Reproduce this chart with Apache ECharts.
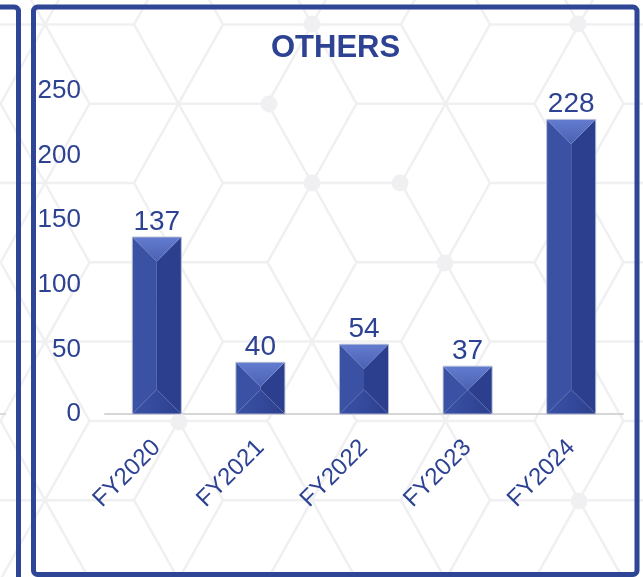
<!DOCTYPE html>
<html>
<head>
<meta charset="utf-8">
<script src="https://cdn.jsdelivr.net/npm/echarts@6/dist/echarts.min.js"></script>
<style>
  html, body { margin: 0; padding: 0; background: #ffffff; }
  #chart { width: 643px; height: 577px; }
</style>
</head>
<body>
<div id="chart"></div>
<script>
// ---- chart data ----
const categories = ['FY2020', 'FY2021', 'FY2022', 'FY2023', 'FY2024'];
const othersValues = [137, 40, 54, 37, 228];
const yTicks = [0, 50, 100, 150, 200, 250];
const chartTitle = 'OTHERS';

// ---- styling ----
const NAVY = '#2D4292';
const BORDER = '#2F4596';
const FONT = '"Liberation Sans", Arial, Helvetica, sans-serif';

// Faint tumbling-blocks (rhombille) lattice used as the panel backdrop.
function backdropElements() {
  const a = 89, h = 79.3, ox = 312, oy = 183;
  const pt = (j, k) => [ox + a * (j + k / 2), oy + h * k];
  const hub = (j, k) => ((((j - k) % 3) + 3) % 3) === 0;
  const els = [];
  for (let k = -3; k <= 6; k++) {
    for (let j = -12; j <= 12; j++) {
      const p = pt(j, k);
      if (p[0] < -120 || p[0] > 780) continue;
      [[j + 1, k], [j, k + 1], [j - 1, k + 1]].forEach(([jn, kn]) => {
        if (!hub(j, k) && !hub(jn, kn)) return;
        const q = pt(jn, kn);
        els.push({
          type: 'line', silent: true, z: 0,
          shape: { x1: p[0], y1: p[1], x2: q[0], y2: q[1] },
          style: { stroke: '#f0f0f2', lineWidth: 2.5 }
        });
      });
    }
  }
  const dots = [[269, 104], [312, 183], [400, 183], [312, 24], [578, 24],
                [579, 501], [179, 422], [445, 263]];
  dots.forEach(([x, y]) => {
    els.push({
      type: 'circle', silent: true, z: 1,
      shape: { cx: x, cy: y, r: 8.5 },
      style: { fill: '#f0f0f2' }
    });
  });
  return els;
}

// Frames: the edge of the neighbouring panel and this panel's outline.
const frameElements = [
  {
    type: 'rect', silent: true, z: 100,
    shape: { x: -100, y: 7, width: 118.5, height: 700, r: 4 },
    style: { fill: 'none', stroke: BORDER, lineWidth: 5 }
  },
  {
    type: 'line', silent: true, z: 100,
    shape: { x1: 0, y1: 414, x2: 6, y2: 414 },
    style: { stroke: '#d9d9d9', lineWidth: 2 }
  },
  {
    type: 'rect', silent: true, z: 100,
    shape: { x: 33.5, y: 7, width: 603.5, height: 567.5, r: 4 },
    style: { fill: 'none', stroke: BORDER, lineWidth: 5 }
  }
];

// Bevelled column: lit top facet, lit left face, shaded right face.
function renderBevelBar(params, api) {
  const idx = api.value(0);
  const val = api.value(1);
  const top = api.coord([idx, val]);
  const base = api.coord([idx, 0]);
  const band = api.size([1, 0])[0];
  const w = band * 0.473;
  const cx = top[0];
  const xl = cx - w / 2, xr = cx + w / 2;
  const yt = top[1], yb = base[1];
  const d = Math.min(w / 2, (yb - yt) / 2);
  return {
    type: 'group',
    children: [
      {
        type: 'polygon',
        shape: { points: [[xl, yt], [cx, yt + d], [cx, yb - d], [xl, yb]] },
        style: { fill: '#3A51A4' }
      },
      {
        type: 'polygon',
        shape: { points: [[xr, yt], [cx, yt + d], [cx, yb - d], [xr, yb]] },
        style: { fill: '#2C3F8E' }
      },
      {
        type: 'polygon',
        shape: { points: [[xl, yt], [xr, yt], [cx, yt + d]] },
        style: {
          fill: new echarts.graphic.LinearGradient(0, 0, 0, 1, [
            { offset: 0, color: '#647CCF' },
            { offset: 1, color: '#4A61B3' }
          ])
        }
      },
      {
        type: 'polygon',
        shape: { points: [[xl, yb], [cx, yb - d], [xr, yb]] },
        style: {
          fill: new echarts.graphic.LinearGradient(0, 0, 1, 0, [
            { offset: 0, color: '#3A51A4' },
            { offset: 0.5, color: '#34499B' },
            { offset: 1, color: '#2C3F8E' }
          ])
        }
      },
      {
        type: 'rect',
        shape: { x: xl, y: yt, width: w, height: yb - yt },
        style: { fill: 'none', stroke: 'rgba(185,192,214,0.85)', lineWidth: 1 }
      },
      {
        type: 'text',
        style: {
          text: String(val),
          x: cx, y: yt - 1,
          align: 'center', verticalAlign: 'bottom',
          fill: NAVY,
          fontSize: 28, fontFamily: FONT
        }
      }
    ]
  };
}

const chart = echarts.init(document.getElementById('chart'), null, { renderer: 'canvas' });

chart.setOption({
  backgroundColor: '#ffffff',
  animation: false,
  title: {
    text: chartTitle,
    left: 266,
    top: 28,
    textStyle: { color: NAVY, fontSize: 31, fontWeight: 'bold', fontFamily: FONT }
  },
  grid: {
    left: 105, right: 20, top: 91, bottom: 163,
    containLabel: false,
    outerBoundsMode: 'none'
  },
  xAxis: {
    type: 'category',
    data: categories,
    axisLine: { show: true, lineStyle: { color: '#d6d6d6', width: 2 } },
    axisTick: { show: false },
    splitLine: { show: false },
    axisLabel: {
      rotate: 45,
      margin: 30,
      interval: 0,
      color: NAVY,
      fontSize: 24,
      fontFamily: FONT
    }
  },
  yAxis: {
    type: 'value',
    min: yTicks[0],
    max: yTicks[yTicks.length - 1],
    interval: yTicks[1] - yTicks[0],
    axisLine: { show: false },
    axisTick: { show: false },
    splitLine: { show: false },
    axisLabel: {
      margin: 24,
      color: NAVY,
      fontSize: 26,
      fontFamily: FONT
    }
  },
  graphic: { elements: backdropElements().concat(frameElements) },
  series: [{
    type: 'custom',
    name: chartTitle,
    renderItem: renderBevelBar,
    encode: { x: 0, y: 1 },
    data: othersValues.map((v, i) => [i, v]),
    z: 5
  }]
});
</script>
</body>
</html>
